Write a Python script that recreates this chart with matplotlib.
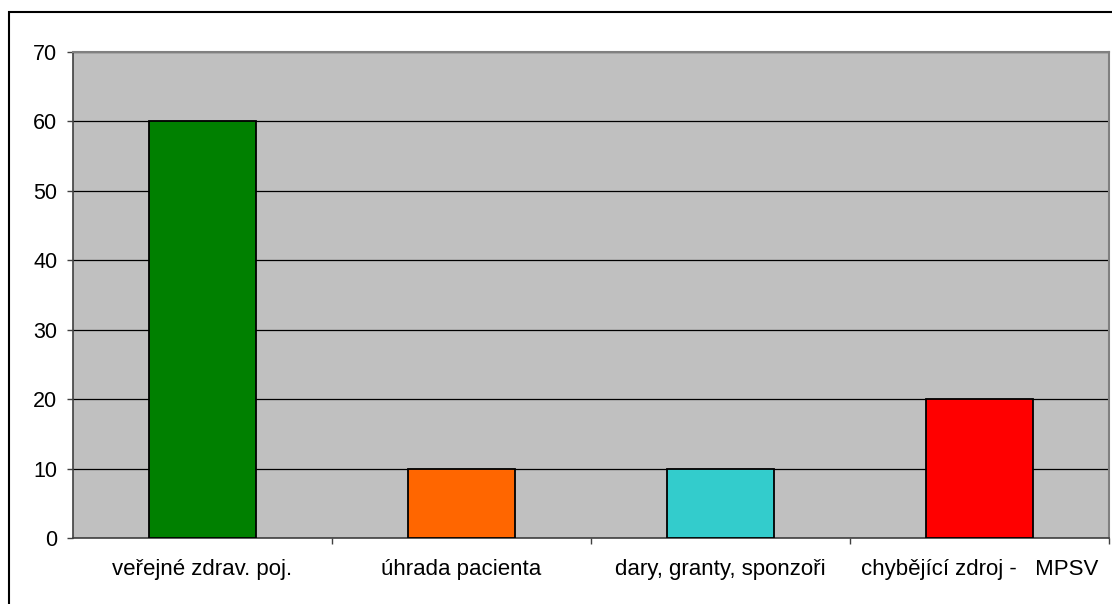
import matplotlib.pyplot as plt
from matplotlib.patches import Rectangle
from matplotlib.ticker import FixedLocator, NullFormatter

categories = ["veřejné zdrav. poj.", "úhrada pacienta", "dary, granty, sponzoři", "chybějící zdroj -   MPSV"]
values = [60, 10, 10, 20]
colors = ["#008000", "#FF6600", "#33CCCC", "#FF0000"]
yticks = [0, 10, 20, 30, 40, 50, 60, 70]

plt.rcParams['font.family'] = ['Liberation Sans', 'DejaVu Sans']

W, H = 1112, 604
fig = plt.figure(figsize=[W / 100, H / 100], dpi=100)

# outer chart frame, running off the right and bottom edges
fig.patches.append(Rectangle((9 / W, -0.1), 1.2, 1 - 12 / H + 0.1, transform=fig.transFigure,
                             facecolor="none", edgecolor="black", linewidth=1.5))

ax = fig.add_axes([73 / W, 1 - 538 / H, (1109 - 73) / W, (538 - 52) / H])
ax.set_facecolor("#C0C0C0")

x = list(range(len(categories)))
ax.bar(x, values, width=0.41, color=colors, edgecolor="black", linewidth=1.3, zorder=3)

ax.set_xlim(-0.5, len(categories) - 0.5)
ax.set_ylim(0, 70)
ax.set_yticks(yticks)
ax.yaxis.grid(True, color="black", linewidth=0.9, zorder=1)
ax.set_axisbelow(True)

# category labels between boundary ticks
ax.xaxis.set_major_locator(FixedLocator([i + 0.5 for i in range(len(categories))]))
ax.xaxis.set_major_formatter(NullFormatter())
ax.xaxis.set_minor_locator(FixedLocator(x))
ax.set_xticklabels(categories, minor=True)
ax.tick_params(axis="x", which="minor", length=0, pad=15, labelsize=16)
ax.tick_params(axis="x", which="major", length=4.3, width=1, color="#404040")
ax.tick_params(axis="y", length=4.3, width=1, color="#404040", labelsize=15.5, pad=7)

for side in ("left", "bottom"):
    ax.spines[side].set_color("#404040")
    ax.spines[side].set_linewidth(1.2)
for side in ("top", "right"):
    ax.spines[side].set_color("#808080")
    ax.spines[side].set_linewidth(1.5)

fig.savefig("out.png", dpi=100)
